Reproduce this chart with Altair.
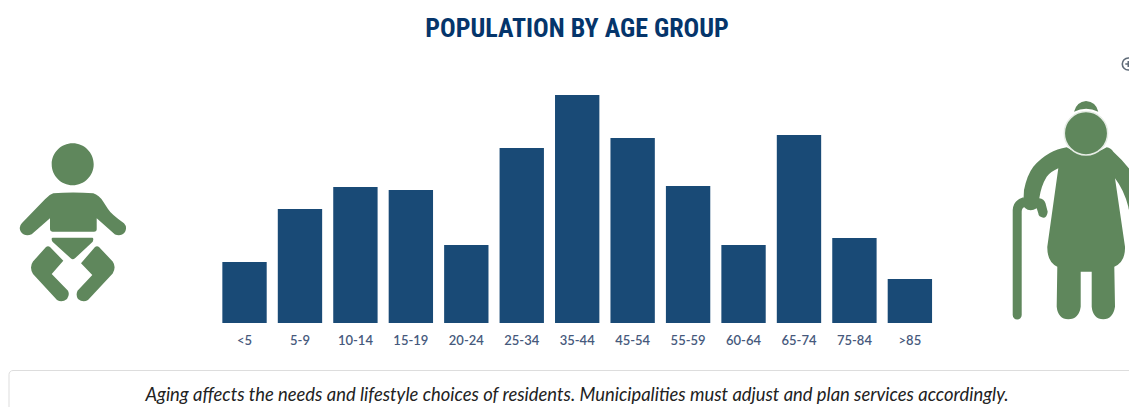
import altair as alt
import pandas as pd

ages = ["<5", "5-9", "10-14", "15-19", "20-24", "25-34", "35-44", "45-54", "55-59", "60-64", "65-74", "75-84", ">85"]
values = [61, 114, 136, 133, 78, 175, 228, 185, 137, 78, 188, 85, 44]
title_text = "POPULATION BY AGE GROUP"
caption_text = "Aging affects the needs and lifestyle choices of residents. Municipalities must adjust and plan services accordingly."

GREEN = "#5f875c"
BLUE = "#194a76"

BABY = (
    "M72.7,143.3 A21,21 0 1 1 72.69,143.3 Z "
    "M53.3,193.3 Q73,191.5 93.3,193.3 Q99,195 103.3,201.7 L108,209 Q111,214 124,223.3 Q127.5,227 125,232 Q121,237 115,234.5 L96.7,218.3 L96.7,229.3 Q96.7,231.7 94,231.7 L52.5,231.7 Q50,231.7 50,229.3 L50,218.3 L31.7,234.3 Q25,237 21,232 Q18,227 22,223 L45,199.3 Q49,194.5 53.3,193.3 Z "
    "M52.5,237.7 L92.5,237.7 Q94,238.5 92.7,241.7 L75,258.3 Q72.7,260 70.7,258.3 L52.5,241.7 Q50.7,238.5 52.5,237.7 Z "
    "M46,247 Q48,245.5 50,247 L63.3,260.7 L51.7,274 L68,290.7 Q70,295 67,299 Q62,303 57,300 L33,274 Q29,267 33,261.5 Z "
    "M95,247 Q97,245.5 99,247 L112.7,261.5 Q116.5,267 112.7,273.5 L88,300 Q83,303 78,299 Q75.5,295 77.5,290.7 L92.3,275 L81,263.3 Z"
)
GRANNY_BODY = (
    "M1066.7,147.3 Q1086,160 1106.7,147.3 Q1111,148 1113.3,151.7 Q1128,165 1137,180 L1145,190 L1145,215 Q1136,219 1131.7,215 Q1129,212 1128.3,206.7 Q1124,190 1115,178.3 "
    "L1125,246.7 Q1125.5,262 1114.3,266.7 L1115,306.7 Q1113,319 1103.3,319.3 Q1093,319 1091.7,306.7 L1091.7,271.7 L1080.7,271.7 L1080.7,306.7 Q1079,319 1068.3,319.3 Q1058,319 1056.7,306.7 L1057.3,266.7 "
    "Q1047,262 1047.3,246.7 L1058.3,168.3 Q1050,172 1046.7,176.7 Q1041,186 1039.3,198.3 Q1044,199 1045.5,203.3 L1047.7,211.7 Q1047,217.7 1043.3,217.7 Q1038.5,217 1038.3,213.3 L1036.7,208.3 Q1030,212.5 1025,208 Q1022.5,205 1023.3,203.3 L1024,190 Q1027,175 1033.3,166.7 Q1048,150 1066.7,147.3 Z "
    "M1012.7,210 Q1013.3,200 1023.3,197.3 L1025,206.7 Q1021.7,207.7 1021.7,211.7 L1021.7,315 A4.5,4.5 0 0 1 1012.7,315 Z "
    "M1074,111.7 Q1076.7,101.7 1086,101 Q1096,101.7 1098.3,111.7 Q1086,106 1074,111.7 Z"
)
GRANNY_HEAD = "M1086,111.6 A21.7,21.7 0 1 1 1085.99,111.6 Z"
MAGNIFIER = (
    "M1128.3,58 A6,6 0 1 1 1128.29,58 Z M1125.3,64 L1131.3,64 M1128.3,61 L1128.3,67 M1132.8,68.5 L1138,73.5"
)

df = pd.DataFrame({"age": ages, "value": values})

x = alt.X(
    "age:N",
    axis=None,
    title=None,
    scale=alt.Scale(domain=ages, range=[208.8, 929.6], paddingInner=0.2, paddingOuter=0.1),
)
y = alt.Y("value:Q", axis=None, title=None, scale=alt.Scale(domain=[0, 228], range=[315, 87]))

base = alt.Chart(df)
one = alt.Chart(alt.Data(values=[{"t": title_text, "c": caption_text}]))

bars = base.mark_bar(color=BLUE).encode(x=x, y=y)
labels = base.mark_text(font="Lato", fontSize=13, fontWeight=600, color="#46597c", baseline="middle").encode(
    x=x, y=alt.value(333), text="age:N"
)

title = one.mark_text(
    font="Roboto Condensed, DejaVu Sans Condensed, Roboto, sans-serif", fontSize=26, fontWeight="bold", color="#05356b", baseline="middle"
).encode(x=alt.value(569), y=alt.value(21), text="t:N")

box = one.mark_rect(fill="white", stroke="#dddddd", strokeWidth=1, cornerRadius=4).encode(
    x=alt.value(1), x2=alt.value(1200), y=alt.value(362.5), y2=alt.value(480)
)
caption = one.mark_text(
    font="Lato", fontSize=18.4, fontStyle="italic", color="#222222", baseline="middle"
).encode(x=alt.value(569), y=alt.value(387), text="c:N")


def icon(shape, **kw):
    return one.mark_point(shape=shape, size=4, opacity=1, **kw).encode(x=alt.value(-8), y=alt.value(-8))


baby = icon(BABY, filled=True, fill=GREEN, strokeWidth=0)
granny = icon(GRANNY_BODY, filled=True, fill=GREEN, strokeWidth=0)
head = icon(GRANNY_HEAD, filled=True, fill=GREEN, stroke="#e6ece5", strokeWidth=1.5)
magnifier = icon(MAGNIFIER, filled=False, stroke="#5f6b78", strokeWidth=1.6)

chart = (
    alt.layer(box, bars, labels, title, caption, baby, granny, head, magnifier)
    .properties(width=1121, height=399, padding=0, autosize="none")
    .configure_view(stroke=None)
)
chart.save("out.html", embed_options={"renderer": "svg", "actions": False})
